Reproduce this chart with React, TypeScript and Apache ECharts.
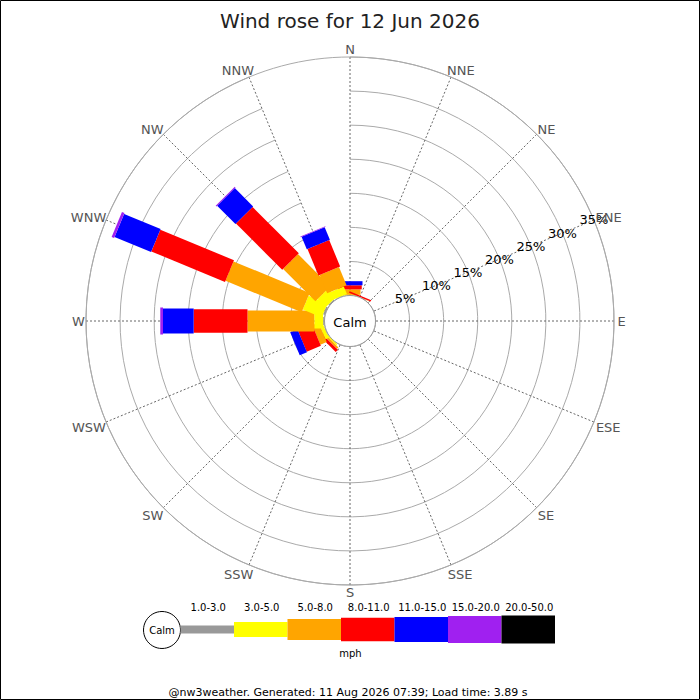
import React, { useEffect, useRef } from "react";
import * as echarts from "echarts";

const directions = ["N", "NNE", "NE", "ENE", "E", "ESE", "SE", "SSE", "S", "SSW", "SW", "WSW", "W", "WNW", "NW", "NNW"];
const speedBins = ["1.0-3.0", "3.0-5.0", "5.0-8.0", "8.0-11.0", "11.0-15.0", "15.0-20.0", "20.0-50.0"];
const binColors = ["#999999", "#ffff00", "#ffa500", "#ff0000", "#0000ff", "#a020f0", "#000000"];
const binWidths = [8, 15, 21, 23.5, 25, 27, 28];

// frequency (%) per direction for each speed bin (mph)
const bin1to3 = [0, 0, 0, 0, 0, 0, 0, 0, 0, 0, 0, 0.1, 0.2, 0.3, 0.2, 0.1];
const bin3to5 = [0.1, 0, 0, 0, 0, 0, 0, 0, 0, 0, 0.2, 0.5, 1.3, 3.0, 1.7, 1.2];
const bin5to8 = [0.8, 0.05, 0, 0, 0, 0, 0, 0, 0, 0, 0.3, 1.0, 9.8, 12.1, 6.7, 2.9];
const bin8to11 = [0.6, 0.2, 0, 0, 0, 0, 0, 0, 0, 0, 0.45, 2.25, 7.9, 11.7, 9.6, 4.2];
const bin11to15 = [0.6, 0, 0, 0, 0, 0, 0, 0, 0, 0, 0, 1.15, 4.5, 5.8, 3.8, 2.0];
const bin15to20 = [0, 0, 0, 0, 0, 0, 0, 0, 0, 0, 0, 0, 0.4, 0.4, 0.15, 0.1];
const bin20to50 = [0, 0, 0, 0, 0, 0, 0, 0, 0, 0, 0, 0, 0, 0, 0, 0];

const radialTicks = [5, 10, 15, 20, 25, 30, 35];
const radialMax = 35;
const labelDirIndex = 3; // ENE
const titleText = "Wind rose for 12 Jun 2026";
const calmText = "Calm";
const unitText = "mph";
const footerText = "@nw3weather. Generated: 11 Aug 2026 07:39; Load time: 3.89 s";

const FONT = "DejaVu Sans";

function measure(text: string, size: number): number {
  const c = document.createElement("canvas").getContext("2d");
  if (!c) return text.length * size * 0.6;
  c.font = `${size}px "${FONT}"`;
  return c.measureText(text).width;
}

export default function App() {
  const ref = useRef<HTMLDivElement>(null);

  useEffect(() => {
    if (!ref.current) return;
    const chart = echarts.init(ref.current, undefined, { renderer: "svg" });

    const bins = [bin1to3, bin3to5, bin5to8, bin8to11, bin11to15, bin15to20, bin20to50];
    const segs: number[][] = [];
    directions.forEach((_, d) => {
      let cum = 0;
      bins.forEach((arr, b) => {
        const v = arr[d];
        if (v > 0) {
          segs.push([cum, d, cum + v, b]);
          cum += v;
        }
      });
    });

    // legend graphic
    const legX0 = 180.5;
    const legW = 53.5;
    const legY = 629.5;
    const legend: any[] = [
      {
        type: "circle",
        shape: { cx: 162, cy: 630, r: 18.5 },
        style: { fill: "#fff", stroke: "#000", lineWidth: 1 },
      },
      {
        type: "text",
        x: 162,
        y: 630,
        style: { text: calmText, fontSize: 10, fontFamily: FONT, fill: "#000", align: "center", verticalAlign: "middle" },
      },
    ];
    speedBins.forEach((lab, b) => {
      const h = binWidths[b];
      legend.push({
        type: "rect",
        shape: { x: legX0 + b * legW, y: legY - h / 2, width: legW, height: h },
        style: { fill: binColors[b] },
      });
      legend.push({
        type: "text",
        x: legX0 + b * legW + legW / 2 + 1,
        y: 607,
        style: { text: lab, fontSize: 10, fontFamily: FONT, fill: "#000", align: "center", verticalAlign: "middle" },
      });
    });
    legend.push({
      type: "text",
      x: 350.5,
      y: 653,
      style: { text: unitText, fontSize: 10, fontFamily: FONT, fill: "#000", align: "center", verticalAlign: "middle" },
    });
    legend.push({
      type: "text",
      x: 348,
      y: 692,
      style: { text: footerText, fontSize: 11, fontFamily: FONT, fill: "#000", align: "center", verticalAlign: "middle" },
    });
    legend.push({
      type: "rect",
      shape: { x: 0.5, y: 0.5, width: 699, height: 699 },
      style: { fill: "none", stroke: "#000", lineWidth: 1 },
      z: 100,
    });

    const option: any = {
      animation: false,
      backgroundColor: "#fff",
      textStyle: { fontFamily: FONT },
      title: {
        text: titleText,
        left: "center",
        top: 6,
        textStyle: { fontSize: 20, fontWeight: "normal", color: "#222", fontFamily: FONT },
      },
      polar: { center: [350, 321], radius: [25.5, 264] },
      angleAxis: {
        type: "category",
        data: directions,
        boundaryGap: false,
        startAngle: 90,
        clockwise: true,
        axisLine: { show: true, lineStyle: { color: "#aaaaaa", width: 1 } },
        axisTick: { show: false, interval: 0 },
        axisLabel: { show: false, interval: 0 },
        splitLine: { show: true, interval: 0, lineStyle: { color: "#666666", width: 1, type: [2, 2] } },
      },
      radiusAxis: {
        type: "value",
        min: 0,
        max: radialMax,
        interval: 5,
        axisLine: { show: false },
        axisTick: { show: false },
        axisLabel: { show: false },
        splitLine: { show: true, lineStyle: { color: "#aaaaaa", width: 1 } },
      },
      graphic: legend,
      series: [
        {
          type: "custom",
          name: "bars",
          coordinateSystem: "polar",
          z: 2,
          data: segs,
          renderItem: (params: any, api: any) => {
            const s = api.value(0);
            const d = api.value(1);
            const e = api.value(2);
            const b = api.value(3);
            const cs = params.coordSys;
            const po = api.coord([radialMax, d]);
            const len = Math.hypot(po[0] - cs.cx, po[1] - cs.cy);
            const ux = (po[0] - cs.cx) / len;
            const uy = (po[1] - cs.cy) / len;
            const a = api.coord([s, d]);
            const c = api.coord([e, d]);
            const hw = binWidths[b] / 2;
            const nx = -uy * hw;
            const ny = ux * hw;
            return {
              type: "polygon",
              shape: {
                points: [
                  [a[0] + nx, a[1] + ny],
                  [c[0] + nx, c[1] + ny],
                  [c[0] - nx, c[1] - ny],
                  [a[0] - nx, a[1] - ny],
                ],
              },
              style: { fill: binColors[b] },
            };
          },
        },
        {
          type: "custom",
          name: "calm",
          coordinateSystem: "polar",
          z: 3,
          data: [[0, 0]],
          renderItem: (params: any) => {
            const cs = params.coordSys;
            return {
              type: "group",
              children: [
                {
                  type: "circle",
                  shape: { cx: cs.cx, cy: cs.cy, r: cs.r0 },
                  style: { fill: "#fff", stroke: "#999999", lineWidth: 1 },
                },
                {
                  type: "text",
                  x: cs.cx,
                  y: cs.cy + 1,
                  style: { text: calmText, fontSize: 13, fontFamily: FONT, fill: "#000", align: "center", verticalAlign: "middle" },
                },
              ],
            };
          },
        },
        {
          type: "custom",
          name: "radialLabels",
          coordinateSystem: "polar",
          z: 4,
          data: radialTicks.map((v) => [v, labelDirIndex]),
          renderItem: (params: any, api: any) => {
            const v = api.value(0);
            const p = api.coord([v, api.value(1)]);
            return {
              type: "text",
              x: p[0],
              y: p[1],
              style: { text: `${v}%`, fontSize: 13, fontFamily: FONT, fill: "#000", align: "center", verticalAlign: "middle" },
            };
          },
        },
        {
          type: "custom",
          name: "dirLabels",
          coordinateSystem: "polar",
          z: 4,
          data: directions.map((_, i) => [radialMax, i]),
          renderItem: (params: any, api: any) => {
            const cs = params.coordSys;
            const i = api.value(1);
            const p = api.coord([api.value(0), i]);
            const len = Math.hypot(p[0] - cs.cx, p[1] - cs.cy);
            const ux = (p[0] - cs.cx) / len;
            const uy = (p[1] - cs.cy) / len;
            const txt = directions[i];
            const w = measure(txt, 13);
            const ax = Math.abs(ux);
            let f = 0;
            if (ax > 0.1 && ax < 0.8) f = 0.5;
            else if (ax >= 0.8 && ax < 0.99) f = 0.6;
            const dx = Math.sign(ux) * f * (w / 2);
            const dy = uy > 0.1 && ax > 0.1 ? 2.5 : 0;
            const dist = 7.5;
            return {
              type: "text",
              x: p[0] + ux * dist + dx,
              y: p[1] + uy * dist + dy,
              style: { text: txt, fontSize: 13, fontFamily: FONT, fill: "#555555", align: "center", verticalAlign: "middle" },
            };
          },
        },
      ],
    };

    chart.setOption(option);
    return () => {
      chart.dispose();
    };
  }, []);

  return <div ref={ref} style={{ position: "fixed", left: 0, top: 0, width: 700, height: 700 }} />;
}
